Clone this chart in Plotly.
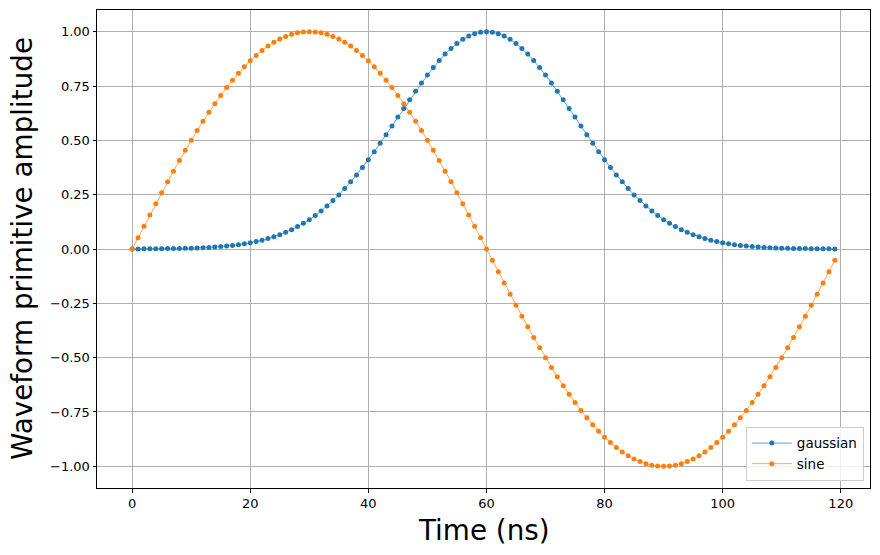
import plotly.graph_objects as go

time_ns = list(range(120))

gaussian = [
    0.000, 0.000, 0.001, 0.001, 0.001, 0.001, 0.002, 0.002, 0.002, 0.003,
    0.004, 0.005, 0.006, 0.007, 0.009, 0.011, 0.014, 0.016, 0.020, 0.024,
    0.029, 0.034, 0.040, 0.048, 0.056, 0.066, 0.077, 0.089, 0.103, 0.118,
    0.135, 0.154, 0.175, 0.198, 0.223, 0.249, 0.278, 0.309, 0.341, 0.375,
    0.411, 0.448, 0.487, 0.526, 0.566, 0.607, 0.647, 0.687, 0.726, 0.764,
    0.801, 0.835, 0.867, 0.897, 0.923, 0.946, 0.965, 0.980, 0.991, 0.998,
    1.000,
    0.998, 0.991, 0.980, 0.965, 0.946, 0.923, 0.897, 0.867, 0.835, 0.801,
    0.764, 0.726, 0.687, 0.647, 0.607, 0.566, 0.526, 0.487, 0.448, 0.411,
    0.375, 0.341, 0.309, 0.278, 0.249, 0.223, 0.198, 0.175, 0.154, 0.135,
    0.118, 0.103, 0.089, 0.077, 0.066, 0.056, 0.048, 0.040, 0.034, 0.029,
    0.024, 0.020, 0.016, 0.014, 0.011, 0.009, 0.007, 0.006, 0.005, 0.004,
    0.003, 0.002, 0.002, 0.002, 0.001, 0.001, 0.001, 0.001, 0.000,
]

sine = [
    0.000, 0.052, 0.105, 0.156, 0.208, 0.259, 0.309, 0.358, 0.407, 0.454,
    0.500, 0.545, 0.588, 0.629, 0.669, 0.707, 0.743, 0.777, 0.809, 0.839,
    0.866, 0.891, 0.914, 0.934, 0.951, 0.966, 0.978, 0.988, 0.995, 0.999,
    1.000,
    0.999, 0.995, 0.988, 0.978, 0.966, 0.951, 0.934, 0.914, 0.891, 0.866,
    0.839, 0.809, 0.777, 0.743, 0.707, 0.669, 0.629, 0.588, 0.545, 0.500,
    0.454, 0.407, 0.358, 0.309, 0.259, 0.208, 0.156, 0.105, 0.052,
    0.000,
    -0.052, -0.105, -0.156, -0.208, -0.259, -0.309, -0.358, -0.407, -0.454, -0.500,
    -0.545, -0.588, -0.629, -0.669, -0.707, -0.743, -0.777, -0.809, -0.839, -0.866,
    -0.891, -0.914, -0.934, -0.951, -0.966, -0.978, -0.988, -0.995, -0.999, -1.000,
    -0.999, -0.995, -0.988, -0.978, -0.966, -0.951, -0.934, -0.914, -0.891, -0.866,
    -0.839, -0.809, -0.777, -0.743, -0.707, -0.669, -0.629, -0.588, -0.545, -0.500,
    -0.454, -0.407, -0.358, -0.309, -0.259, -0.208, -0.156, -0.105, -0.052,
]

x_ticks = [0, 20, 40, 60, 80, 100, 120]
y_ticks = [1.00, 0.75, 0.50, 0.25, 0.00, -0.25, -0.50, -0.75, -1.00]
y_tick_labels = ["1.00", "0.75", "0.50", "0.25", "0.00", "\u22120.25", "\u22120.50", "\u22120.75", "\u22121.00"]

FONT = "DejaVu Sans"

fig = go.Figure()
fig.add_trace(go.Scatter(
    x=time_ns, y=gaussian, name="gaussian", mode="lines+markers",
    line=dict(color="#1f77b4", width=0.7),
    marker=dict(color="#1f77b4", size=5),
))
fig.add_trace(go.Scatter(
    x=time_ns, y=sine, name="sine", mode="lines+markers",
    line=dict(color="#ff7f0e", width=0.7),
    marker=dict(color="#ff7f0e", size=5),
))

axis_common = dict(
    showline=True, linecolor="black", linewidth=1, mirror=True,
    ticks="outside", ticklen=3.5, tickwidth=1, tickcolor="black",
    showgrid=True, gridcolor="#b0b0b0", gridwidth=0.8,
    zeroline=False, automargin=False,
    tickfont=dict(family=FONT, size=13, color="black"),
)

fig.update_xaxes(range=[-5.95, 124.95], tickvals=x_ticks,
                 ticktext=[str(v) for v in x_ticks], **axis_common)
fig.update_yaxes(range=[-1.1, 1.1], tickvals=y_ticks, ticktext=y_tick_labels,
                 **axis_common)

fig.update_layout(
    width=880, height=555,
    margin=dict(l=97, r=10, t=10, b=67, autoexpand=False),
    paper_bgcolor="white", plot_bgcolor="white",
    font=dict(family=FONT, color="black"),
    showlegend=True,
    legend=dict(
        x=0.992, y=0.015, xanchor="right", yanchor="bottom",
        bgcolor="rgba(255,255,255,0.8)", bordercolor="#cccccc", borderwidth=1,
        font=dict(family=FONT, size=13.5, color="black"),
        itemwidth=40, tracegroupgap=0,
    ),
    annotations=[
        dict(text="Time (ns)", xref="paper", yref="paper", x=0.5, y=0,
             yshift=-42, xanchor="center", yanchor="middle", showarrow=False,
             font=dict(family=FONT, size=27.8, color="black")),
        dict(text="Waveform primitive amplitude", xref="paper", yref="paper",
             x=0, y=0.5, xshift=-75, xanchor="center", yanchor="middle",
             textangle=-90, showarrow=False,
             font=dict(family=FONT, size=27.8, color="black")),
    ],
)

fig.write_html(
    "out.html",
    config={"displayModeBar": False},
    post_script="document.body.style.margin='0';document.body.style.padding='0';document.body.style.overflow='hidden';",
)
